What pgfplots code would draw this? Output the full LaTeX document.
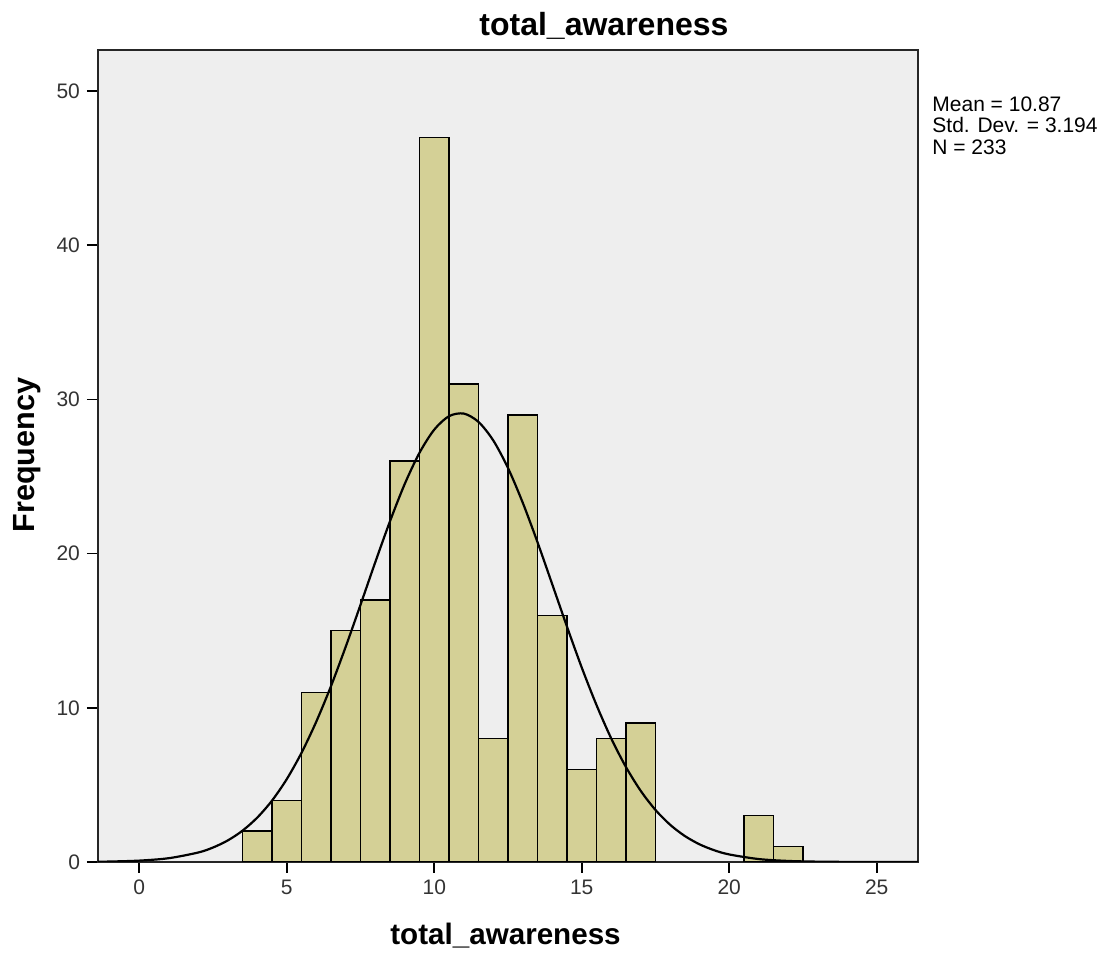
\documentclass[border=0pt]{standalone}
\usepackage{fontspec}
\setmainfont{Liberation Sans}
\usepackage{pgfplots}
\pgfplotsset{compat=1.18}
\definecolor{barfill}{RGB}{212,208,150}
\definecolor{plotbg}{RGB}{238,238,238}
\begin{document}
\begin{tikzpicture}
\path[use as bounding box] (-49pt,-47pt) rectangle (505.5pt,431pt);
\begin{axis}[
  at={(0,0)}, anchor=south west,
  width=410pt, height=406pt, scale only axis,
  xmin=-1.4, xmax=26.4, ymin=0, ymax=52.66,
  xtick={0,5,...,25}, ytick={0,10,...,50},
  tick align=outside, xtick pos=left, ytick pos=left,
  major tick length=5.5pt,
  axis line style={line width=1pt, black!85},
  tick style={line width=0.8pt, black},
  ticklabel style={font=\fontsize{10.5}{12}\selectfont, text=black!80},
  /pgf/number format/assume math mode=true,
  axis background/.style={fill=plotbg},
  title={total\_awareness},
  title style={at={(axis description cs:0.617,1)}, anchor=center, yshift=6pt, font=\bfseries\fontsize{16}{19}\selectfont},
  xlabel={total\_awareness},
  xlabel style={at={(axis description cs:0.497,0)}, anchor=center, yshift=-37pt, font=\bfseries\fontsize{14.8}{18}\selectfont},
  ylabel={Frequency},
  ylabel style={at={(axis description cs:-0.0866,0.501)}, anchor=center, rotate=0, font=\bfseries\fontsize{15.3}{18}\selectfont},
]
\addplot[ybar, bar width=1, bar shift=0pt, fill=barfill, draw=black, line width=0.75pt]
coordinates {(4,2) (5,4) (6,11) (7,15) (8,17) (9,26) (10,47) (11,31) (12,8) (13,29) (14,16) (15,6) (16,8) (17,9) (21,3) (22,1)};
\addplot[smooth, black, line width=1.1pt] coordinates {
(-1.4,0.018) (-1,0.029) (0,0.089) (1,0.246) (2,0.616) (2.5,0.939) (3,1.398) (3.5,2.032) (4,2.880) (4.5,3.982) (5,5.375) (5.5,7.081) (6,9.10) (6.5,11.41) (7,13.97) (7.5,16.68) (8,19.44) (8.5,22.10) (9,24.52) (9.5,26.54) (10,28.04) (10.5,28.91) (11,29.08) (11.5,28.54) (12,27.34) (12.5,25.55) (13,23.30) (13.5,20.74) (14,18.01) (14.5,15.26) (15,12.61) (15.5,10.18) (16,8.01) (16.5,6.155) (17,4.613) (17.5,3.375) (18,2.409) (18.5,1.678) (19,1.140) (19.5,0.756) (20,0.489) (21,0.190) (22,0.067) (23,0.022) (24,0.006) (25,0.002) (26.4,0.0002)};
\end{axis}
\node[anchor=north west, align=left, inner sep=0pt, font=\fontsize{10.5}{10.8}\selectfont] at ([xshift=7pt,yshift=-23pt]current axis.north east) {Mean = 10.87\\Std. Dev. = 3.194\\N = 233};
\end{tikzpicture}
\end{document}
